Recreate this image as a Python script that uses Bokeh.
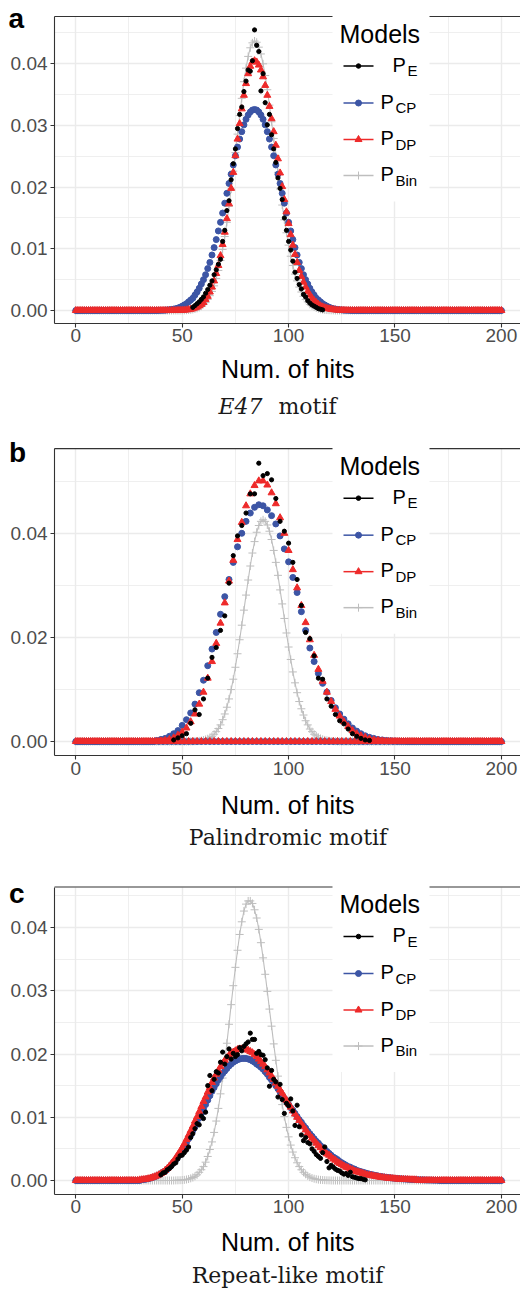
from bokeh.plotting import figure
from bokeh.models import Range1d, FixedTicker, LinearAxis, Grid, PrintfTickFormatter
from bokeh.layouts import column
from bokeh.embed import file_html
from bokeh.resources import INLINE
from bokeh.core.properties import value

# ---------------- data ----------------
N_HITS = list(range(0, 201))
MODELS = ["E", "CP", "DP", "Bin"]
X_TICKS = [0, 50, 100, 150, 200]
X_MINOR = [25, 75, 125, 175]

# Panel a: E47 motif
A_E_START = 55
A_E = [0.0005, 0.0008, 0.0011, 0.0014, 0.0018,
       0.0022, 0.0028, 0.0034, 0.0041, 0.0048, 0.0058, 0.0066, 0.0075, 0.0083, 0.0112,
       0.0130, 0.0162, 0.0178, 0.0212, 0.0238, 0.0262, 0.0295, 0.0318, 0.0330, 0.0355,
       0.0372, 0.0390, 0.0388, 0.0405, 0.0455, 0.0430, 0.0420, 0.0356, 0.0384, 0.0337,
       0.0301, 0.0318, 0.0285, 0.0262, 0.0240, 0.0215, 0.0198, 0.0180, 0.0150, 0.0130,
       0.0112, 0.0098, 0.0080, 0.0062, 0.0052, 0.0042, 0.0035, 0.0026, 0.0022, 0.0016,
       0.0012, 0.0009, 0.0007, 0.0005, 0.0003, 0.0002, 0.0001]
A_CP_START = 39
A_CP = [0.00002, 0.00003, 0.00004, 0.00006, 0.00009, 0.00012, 0.00017, 0.00023, 0.0003, 0.0004, 0.00053,
        0.0007, 0.0009, 0.0011, 0.0014, 0.0017, 0.0020, 0.0025, 0.0030, 0.0036, 0.0043,
        0.0050, 0.0058, 0.0068, 0.0078, 0.0090, 0.0102, 0.0115, 0.0129, 0.0143, 0.0158,
        0.0174, 0.0190, 0.0206, 0.0221, 0.0236, 0.0251, 0.0265, 0.0278, 0.0290, 0.0301,
        0.0310, 0.0317, 0.0322, 0.0325, 0.0326, 0.0325, 0.0322, 0.0317, 0.0310, 0.0301,
        0.0290, 0.0278, 0.0265, 0.0251, 0.0236, 0.0221, 0.0206, 0.0190, 0.0174, 0.0158,
        0.0143, 0.0129, 0.0115, 0.0102, 0.0090, 0.0078, 0.0068, 0.0058, 0.0050, 0.0043,
        0.0036, 0.0030, 0.0025, 0.0020, 0.0017, 0.0014, 0.0011, 0.0009, 0.0007, 0.00053,
        0.0004, 0.0003, 0.00023, 0.00017, 0.00012, 0.00009, 0.00006, 0.00004, 0.00003, 0.00002]
A_DP_START = 48
A_DP = [0.00002, 0.00003, 0.00004, 0.00006, 0.0001, 0.00014, 0.0002, 0.00028, 0.0004, 0.00055, 0.00075,
        0.0010, 0.0013, 0.0018, 0.0023, 0.0030, 0.0038, 0.0048, 0.0060, 0.0073, 0.0089,
        0.0107, 0.0127, 0.0149, 0.0173, 0.0198, 0.0224, 0.0251, 0.0278, 0.0303, 0.0327,
        0.0349, 0.0368, 0.0384, 0.0396, 0.0403, 0.0405, 0.0403, 0.0398, 0.0390, 0.0379,
        0.0365, 0.0349, 0.0331, 0.0311, 0.0290, 0.0268, 0.0246, 0.0223, 0.0201, 0.0180,
        0.0160, 0.0141, 0.0123, 0.0106, 0.0091, 0.0078, 0.0065, 0.0055, 0.0046, 0.0038,
        0.0031, 0.0025, 0.0020, 0.0016, 0.0013, 0.0010, 0.00076, 0.00059, 0.00045, 0.00034,
        0.00026, 0.00019, 0.00014, 0.0001, 0.00007, 0.00005, 0.00003, 0.00002]
A_BIN_START = 50
A_BIN = [0.00002, 0.00003, 0.00004, 0.00007, 0.00011, 0.00017, 0.00025, 0.00035, 0.0005, 0.0007,
         0.0010, 0.0013, 0.0018, 0.0024, 0.0031, 0.0040, 0.0052, 0.0065, 0.0081, 0.0099,
         0.0120, 0.0143, 0.0169, 0.0197, 0.0226, 0.0256, 0.0286, 0.0316, 0.0344, 0.0371,
         0.0393, 0.0412, 0.0426, 0.0434, 0.0437, 0.0435, 0.0427, 0.0416, 0.0400, 0.0381,
         0.0358, 0.0333, 0.0306, 0.0279, 0.0251, 0.0224, 0.0197, 0.0171, 0.0147, 0.0126,
         0.0106, 0.0088, 0.0073, 0.0059, 0.0048, 0.0038, 0.0030, 0.0023, 0.0018, 0.0014,
         0.0010, 0.00077, 0.00057, 0.00041, 0.0003, 0.00021, 0.00015, 0.0001, 0.00007, 0.00005,
         0.00003, 0.00002]

# Panel b: Palindromic motif (hits come in pairs -> odd counts are 0)
B_E_START = 46
B_E_STEP = 2
B_E = [0.0003, 0.0007, 0.0011, 0.0015, 0.0035, 0.0061, 0.0052, 0.0082, 0.0122, 0.0162,
       0.0181, 0.0214, 0.0242, 0.0305, 0.0358, 0.0396, 0.0416, 0.0440, 0.0477, 0.0477,
       0.0536, 0.0512, 0.0516, 0.0504, 0.0468, 0.0424, 0.0405, 0.0382, 0.0345, 0.0312,
       0.0262, 0.0210, 0.0198, 0.0165, 0.0122, 0.0120, 0.0082, 0.0068, 0.0052, 0.0040,
       0.0034, 0.0024, 0.0015, 0.0010, 0.0006, 0.0003, 0.0002]
B_CP_START = 38
B_CP = [0.0002, 0, 0.0004, 0, 0.0006, 0, 0.0010, 0, 0.0015, 0, 0.0021, 0, 0.0031, 0, 0.0042, 0,
        0.0055, 0, 0.0072, 0, 0.0094, 0, 0.0118, 0, 0.0146, 0, 0.0178, 0, 0.0210, 0, 0.0245, 0,
        0.0279, 0, 0.0312, 0, 0.0345, 0, 0.0375, 0, 0.0401, 0, 0.0424, 0, 0.0440, 0, 0.0451, 0,
        0.0456, 0, 0.0454, 0, 0.0446, 0, 0.0435, 0, 0.0419, 0, 0.0396, 0, 0.0371, 0, 0.0346, 0,
        0.0316, 0, 0.0287, 0, 0.0250, 0, 0.0214, 0, 0.0180, 0, 0.0154, 0, 0.0131, 0, 0.0112, 0,
        0.0095, 0, 0.0079, 0, 0.0065, 0, 0.0053, 0, 0.0043, 0, 0.0034, 0, 0.0026, 0, 0.0020, 0,
        0.0015, 0, 0.0011, 0, 0.0008, 0, 0.0006, 0, 0.0004, 0, 0.0003, 0, 0.0002, 0, 0.00015, 0,
        0.0001, 0, 0.00006, 0, 0.00004]
B_DP_START = 40
B_DP = [0.0001, 0, 0.0002, 0, 0.0004, 0, 0.0007, 0, 0.0012, 0, 0.0018, 0, 0.0026, 0, 0.0038, 0,
        0.0053, 0, 0.0072, 0, 0.0095, 0, 0.0122, 0, 0.0154, 0, 0.0189, 0, 0.0228, 0, 0.0267, 0,
        0.0309, 0, 0.0349, 0, 0.0389, 0, 0.0422, 0, 0.0454, 0, 0.0477, 0, 0.0493, 0, 0.0502, 0,
        0.0502, 0, 0.0494, 0, 0.0479, 0, 0.0458, 0, 0.0431, 0, 0.0401, 0, 0.0368, 0, 0.0331, 0,
        0.0296, 0, 0.0262, 0, 0.0229, 0, 0.0196, 0, 0.0166, 0, 0.0139, 0, 0.0116, 0, 0.0095, 0,
        0.0077, 0, 0.0062, 0, 0.0049, 0, 0.0038, 0, 0.0029, 0, 0.0021, 0, 0.0015, 0, 0.0011, 0,
        0.0008, 0, 0.0005, 0, 0.0003, 0, 0.0002, 0, 0.0001]
B_BIN_START = 54
B_BIN = [0.00002, 0.00003, 0.00005, 0.00008, 0.00012, 0.00018, 0.00027, 0.00039, 0.00054, 0.00076,
         0.0010, 0.0014, 0.0019, 0.0025, 0.0032, 0.0042, 0.0053, 0.0066, 0.0082, 0.0100,
         0.0120, 0.0143, 0.0169, 0.0196, 0.0224, 0.0253, 0.0282, 0.0311, 0.0338, 0.0363,
         0.0385, 0.0403, 0.0416, 0.0424, 0.0427, 0.0424, 0.0417, 0.0405, 0.0389, 0.0368,
         0.0345, 0.0320, 0.0292, 0.0265, 0.0237, 0.0209, 0.0182, 0.0158, 0.0134, 0.0113,
         0.0094, 0.0077, 0.0063, 0.0051, 0.0040, 0.0032, 0.0024, 0.0019, 0.0014, 0.0011,
         0.00079, 0.00058, 0.00041, 0.0003, 0.00021, 0.00014, 0.0001, 0.00007, 0.00005, 0.00003,
         0.00002]

# Panel c: Repeat-like motif
C_E_START = 40
C_E = [0.0009, 0.0012, 0.0013, 0.0017, 0.0019, 0.0022, 0.0026, 0.0028, 0.0034, 0.0039,
       0.0040, 0.0044, 0.0048, 0.0053, 0.0068, 0.0074, 0.0082, 0.0090, 0.0088, 0.0102,
       0.0098, 0.0108, 0.0150, 0.0166, 0.0142, 0.0160, 0.0172, 0.0170, 0.0187, 0.0203,
       0.0184, 0.0196, 0.0208, 0.0192, 0.0201, 0.0196, 0.0199, 0.0210, 0.0205, 0.0212,
       0.0216, 0.0219, 0.0233, 0.0223, 0.0223, 0.0201, 0.0204, 0.0199, 0.0198, 0.0191,
       0.0178, 0.0149, 0.0174, 0.0160, 0.0156, 0.0132, 0.0152, 0.0128, 0.0106, 0.0122,
       0.0118, 0.0129, 0.0110, 0.0087, 0.0119, 0.0085, 0.0072, 0.0063, 0.0068, 0.0060,
       0.0058, 0.0050, 0.0046, 0.0041, 0.0038, 0.0035, 0.0044, 0.0053, 0.0030, 0.0020,
       0.0024, 0.0021, 0.0018, 0.0016, 0.0015, 0.0012, 0.0010, 0.0011, 0.0008, 0.0013,
       0.0006, 0.0005, 0.0004, 0.0003, 0.0003, 0.0002, 0.0001]
C_CP_START = 31
C_CP = [0.00012, 0.00016, 0.00021, 0.00028, 0.00036, 0.00046, 0.00058, 0.00073, 0.00089,
        0.0011, 0.0013, 0.0015, 0.0018, 0.0021, 0.0025, 0.0029, 0.0033, 0.0038, 0.0043,
        0.0048, 0.0053, 0.0060, 0.0066, 0.0072, 0.0079, 0.0085, 0.0092, 0.0099, 0.0106,
        0.0113, 0.0120, 0.0127, 0.0134, 0.0141, 0.0147, 0.0153, 0.0159, 0.0164, 0.0169,
        0.0173, 0.0177, 0.0181, 0.0184, 0.0187, 0.0189, 0.0191, 0.0192, 0.0193, 0.0193,
        0.0193, 0.0192, 0.0191, 0.0189, 0.0187, 0.0184, 0.0182, 0.0179, 0.0176, 0.0172,
        0.0168, 0.0163, 0.0159, 0.0155, 0.0150, 0.0145, 0.0140, 0.0135, 0.0130, 0.0125,
        0.0120, 0.0115, 0.0111, 0.0106, 0.0101, 0.0096, 0.0092, 0.0087, 0.0083, 0.0078,
        0.0074, 0.0070, 0.0066, 0.0062, 0.0059, 0.0055, 0.0052, 0.0049, 0.0046, 0.0043,
        0.0040, 0.0037, 0.0035, 0.0033, 0.0030, 0.0028, 0.0026, 0.0024, 0.0022, 0.0021,
        0.0019, 0.0018, 0.0016, 0.0015, 0.0014, 0.0013, 0.0012, 0.0011, 0.0010, 0.00093,
        0.00086, 0.00079, 0.00072, 0.00066, 0.0006, 0.00055, 0.0005, 0.00046, 0.00042, 0.00038,
        0.00035, 0.00032, 0.00029, 0.00026, 0.00024, 0.00022, 0.0002, 0.00018, 0.00016, 0.00015,
        0.00013, 0.00012, 0.0001, 0.0001, 0.00008, 0.00007, 0.00006, 0.00006, 0.00005, 0.00004, 0.00004]
C_DP_START = 30
C_DP = [0.00009, 0.00012, 0.00016, 0.00021, 0.00028, 0.00036, 0.00047, 0.00059, 0.00074, 0.0009,
        0.0011, 0.0013, 0.0016, 0.0019, 0.0023, 0.0027, 0.0031, 0.0036, 0.0041, 0.0046,
        0.0052, 0.0058, 0.0065, 0.0072, 0.0079, 0.0086, 0.0094, 0.0101, 0.0109, 0.0117,
        0.0125, 0.0132, 0.0140, 0.0147, 0.0155, 0.0162, 0.0168, 0.0174, 0.0180, 0.0185,
        0.0190, 0.0194, 0.0198, 0.0201, 0.0203, 0.0205, 0.0207, 0.0208, 0.0208, 0.0208,
        0.0207, 0.0206, 0.0204, 0.0202, 0.0199, 0.0196, 0.0192, 0.0188, 0.0184, 0.0180,
        0.0175, 0.0170, 0.0165, 0.0160, 0.0154, 0.0149, 0.0143, 0.0138, 0.0132, 0.0127,
        0.0121, 0.0116, 0.0110, 0.0105, 0.0100, 0.0095, 0.0089, 0.0085, 0.0080, 0.0075,
        0.0071, 0.0067, 0.0063, 0.0059, 0.0055, 0.0052, 0.0048, 0.0045, 0.0042, 0.0040,
        0.0037, 0.0034, 0.0032, 0.0029, 0.0027, 0.0025, 0.0023, 0.0021, 0.0020, 0.0018,
        0.0017, 0.0015, 0.0014, 0.0013, 0.0012, 0.0011, 0.0010, 0.0009, 0.00084, 0.00077,
        0.0007, 0.00064, 0.00058, 0.00053, 0.00048, 0.00044, 0.0004, 0.00036, 0.00033, 0.0003,
        0.00027, 0.00024, 0.00022, 0.0002, 0.00018, 0.00016, 0.00015, 0.00013, 0.00012, 0.00011, 0.0001]
C_BIN_START = 47
C_BIN = [0.00002, 0.00003, 0.00004, 0.00007, 0.0001, 0.00016, 0.00023, 0.00034, 0.00048, 0.00067,
         0.0009, 0.0013, 0.0017, 0.0022, 0.0029, 0.0038, 0.0049, 0.0061, 0.0076, 0.0094,
         0.0114, 0.0137, 0.0162, 0.0189, 0.0217, 0.0247, 0.0278, 0.0308, 0.0337, 0.0364,
         0.0389, 0.0409, 0.0426, 0.0437, 0.0442, 0.0442, 0.0438, 0.0428, 0.0415, 0.0397,
         0.0376, 0.0352, 0.0326, 0.0299, 0.0271, 0.0244, 0.0216, 0.0190, 0.0165, 0.0142,
         0.0120, 0.0101, 0.0084, 0.0069, 0.0056, 0.0045, 0.0036, 0.0028, 0.0022, 0.0017,
         0.0013, 0.00098, 0.00073, 0.00054, 0.00039, 0.00028, 0.0002, 0.00014, 0.0001, 0.00007,
         0.00005, 0.00003, 0.00002]

# ---------------- style / layout constants ----------------
SANS = "Liberation Sans"
SERIF = "DejaVu Serif"
COL = {"E": "#000000", "CP": "#3C55A5", "DP": "#EE2A2A", "Bin": "#BEBEBE"}
AX = "#333333"
GRID = "#EBEBEB"
W = 520
X_LO, X_HI = -35.386, 208.98      # canvas span in data units
AX_X0, AX_X1 = -10, 209           # panel span (ggplot expansion)


def pad(start, vals):
    out = [0.0] * len(N_HITS)
    for i, v in enumerate(vals):
        if 0 <= start + i < len(out):
            out[start + i] = v
    return out


def make_panel(letter, T0, H, zero_px, k, y_axis, y_top, y_ticks, y_minor,
               e_x, e_y, cp, dp, bn, letter_pos, nh_mid, subtitle, sub_mid):
    y_hi = (zero_px - T0) / k
    y_lo = (zero_px - T0 - H) / k
    p = figure(width=W, height=H, x_range=Range1d(X_LO, X_HI), y_range=Range1d(y_lo, y_hi),
               output_backend="svg", toolbar_location=None,
               x_axis_location=None, y_axis_location=None,
               min_border=0, min_border_left=0, min_border_right=0,
               min_border_top=0, min_border_bottom=0)
    p.extra_x_ranges = {"lx": Range1d(0, W)}
    p.extra_y_ranges = {"ly": Range1d(0, H)}
    p.outline_line_color = None
    p.background_fill_color = "white"
    p.border_fill_color = "white"
    p.center = [r for r in p.center if not isinstance(r, Grid)]

    def PY(py):  # page y (px from top) -> pixel-range coordinate
        return T0 + H - py

    xt = FixedTicker(ticks=X_TICKS, minor_ticks=X_MINOR)
    yt = FixedTicker(ticks=y_ticks, minor_ticks=y_minor)
    xg = Grid(dimension=0, ticker=xt, cross_bounds=(y_axis, y_top))
    yg = Grid(dimension=1, ticker=yt, cross_bounds=(AX_X0, AX_X1))
    for g in (xg, yg):
        g.grid_line_color = GRID
        g.grid_line_width = 1.4
        g.minor_grid_line_color = GRID
        g.minor_grid_line_width = 0.8
        p.add_layout(g, "center")

    xa = LinearAxis(fixed_location=y_axis, bounds=(AX_X0, AX_X1), ticker=xt)
    ya = LinearAxis(fixed_location=AX_X0, bounds=(y_axis, y_top), ticker=yt,
                    formatter=PrintfTickFormatter(format="%.2f"))
    for ax in (xa, ya):
        ax.axis_line_color = AX
        ax.axis_line_width = 1.1
        ax.major_tick_line_color = AX
        ax.major_tick_line_width = 1.1
        ax.major_tick_out = 4
        ax.major_tick_in = 0
        ax.minor_tick_line_color = None
        ax.major_label_text_font = SANS
        ax.major_label_text_font_size = "19px"
        ax.major_label_text_color = "#4D4D4D"
    xa.major_label_standoff = 2
    ya.major_label_standoff = 3
    p.add_layout(xa, "below")
    p.add_layout(ya, "left")

    # panel top border
    p.segment(x0=[AX_X0], y0=[y_top], x1=[AX_X1], y1=[y_top], line_color=AX, line_width=1.1)

    # data marks (Bin underneath, empirical on top)
    p.line(N_HITS, bn, line_color=COL["Bin"], line_width=1.1)
    p.scatter(N_HITS, bn, marker="cross", size=8, line_color=COL["Bin"], line_width=1)
    p.scatter(N_HITS, cp, marker="circle", size=6, fill_color=COL["CP"], line_color=COL["CP"])
    p.scatter(N_HITS, dp, marker="triangle", size=7, fill_color=COL["DP"], line_color=COL["DP"])
    p.scatter(e_x, e_y, marker="circle", size=4.2, fill_color=COL["E"], line_color=COL["E"])

    # legend, drawn in pixel space
    kw = dict(x_range_name="lx", y_range_name="ly")
    ft = zero_px - y_top * k  # page y of panel top
    p.quad(left=[332], right=[429], bottom=[PY(ft + 185)], top=[PY(ft - 1.5)],
           fill_color="white", line_color=None, **kw)
    p.text(x=[339], y=[PY(ft + 17)], text=["Models"], text_font=value(SANS),
           text_font_size="25px", text_color="black", text_baseline="middle", **kw)
    rows = [49.5, 86.5, 123, 159]
    markers = {"E": ("circle", 4.5), "CP": ("circle", 6), "DP": ("triangle", 7), "Bin": ("cross", 8)}
    for m, r in zip(MODELS, rows):
        yc = ft + r
        p.segment(x0=[343], y0=[PY(yc)], x1=[373], y1=[PY(yc)], line_color=COL[m],
                  line_width=1.5, **kw)
        mk, sz = markers[m]
        p.scatter(x=[358], y=[PY(yc)], marker=mk, size=sz, fill_color=COL[m],
                  line_color=COL[m], **kw)
        px, sx = (392, 407) if m == "E" else (380, 395)
        p.text(x=[px], y=[PY(yc - 1.2)], text=["P"], text_font=value(SANS), text_font_size="20px",
               text_color="black", text_baseline="middle", **kw)
        p.text(x=[sx], y=[PY(yc + 4.8)], text=[m], text_font=value(SANS), text_font_size="15px",
               text_color="black", text_baseline="middle", **kw)

    # panel letter, axis title, caption
    lx_, lm = letter_pos
    p.text(x=[lx_], y=[PY(lm)], text=[letter], text_font=value(SANS), text_font_size="28px",
           text_font_style="bold", text_color="black", text_baseline="middle", **kw)
    p.text(x=[287.3], y=[PY(nh_mid)], text=["Num. of hits"], text_font=value(SANS),
           text_font_size="25px", text_color="black", text_align="center",
           text_baseline="middle", **kw)
    for txt, x, align, style in subtitle:
        p.text(x=[x], y=[PY(sub_mid)], text=[txt], text_font=value(SERIF),
               text_font_size="22px", text_font_style=style, text_color="#1a1a1a",
               text_align=align, text_baseline="middle", **kw)
    return p


pa = make_panel("a", 0, 430, 310, 6167, -0.00206, 0.04767,
                [0, 0.01, 0.02, 0.03, 0.04], [0.005, 0.015, 0.025, 0.035, 0.045],
                list(range(A_E_START, A_E_START + len(A_E))), A_E,
                pad(A_CP_START, A_CP), pad(A_DP_START, A_DP), pad(A_BIN_START, A_BIN),
                (8, 17.6), 368.6,
                [("E47", 218, "left", "italic"), ("motif", 278, "left", "normal")], 406.4)

pb = make_panel("b", 430, 432, 741, 5192, -0.0027, 0.0564,
                [0, 0.02, 0.04], [0.01, 0.03, 0.05],
                list(range(B_E_START, B_E_START + B_E_STEP * len(B_E), B_E_STEP)), B_E,
                pad(B_CP_START, B_CP), pad(B_DP_START, B_DP), pad(B_BIN_START, B_BIN),
                (8.5, 452), 804,
                [("Palindromic motif", 287.5, "center", "normal")], 837.4)

pc = make_panel("c", 862, 426, 1180, 6325, -0.0022, 0.0464,
                [0, 0.01, 0.02, 0.03, 0.04], [0.005, 0.015, 0.025, 0.035, 0.045],
                list(range(C_E_START, C_E_START + len(C_E))), C_E,
                pad(C_CP_START, C_CP), pad(C_DP_START, C_DP), pad(C_BIN_START, C_BIN),
                (8.5, 893.3), 1241.3,
                [("Repeat-like motif", 287, "center", "normal")], 1275.4)

layout = column(pa, pb, pc, spacing=0)
open("out.html", "w").write(file_html(layout, INLINE, title="Models"))
